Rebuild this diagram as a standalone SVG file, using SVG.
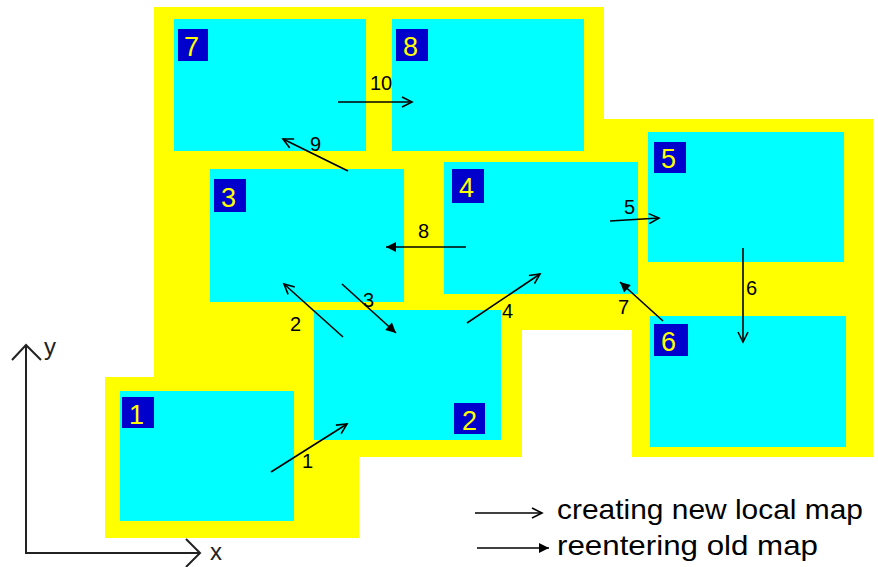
<svg xmlns="http://www.w3.org/2000/svg" width="878" height="567" viewBox="0 0 878 567">
<style>
.map{fill:#00ffff}
.tag{fill:#0000cc}
.num{font-family:"Liberation Sans",Arial,sans-serif;font-size:27px;fill:#ffff00}
.lbl{font-family:"Liberation Sans",Arial,sans-serif;font-size:20px;fill:#000}
.leg{font-family:"Liberation Sans",Arial,sans-serif;font-size:28px;fill:#000}
.new{stroke:#000;stroke-width:1.6;fill:none;marker-end:url(#open)}
.old{stroke:#000;stroke-width:1.6;fill:none;marker-end:url(#solid)}
.axis{stroke:#222;stroke-width:2;fill:none}
</style>
<defs>
<marker id="open" markerUnits="userSpaceOnUse" markerWidth="14" markerHeight="14" refX="11" refY="6" orient="auto">
<path d="M1,1 L11,6 L1,11" fill="none" stroke="#000" stroke-width="1.6"/>
</marker>
<marker id="solid" markerUnits="userSpaceOnUse" markerWidth="14" markerHeight="14" refX="11" refY="6" orient="auto">
<path d="M1,1 L11,6 L1,11 z" fill="#000"/>
</marker>
</defs>
<rect width="878" height="567" fill="#fff"/>
<path d="M154,7 H604 V119 H873 V457 H632 V330 H522 V457 H359 V538 H105 V377 H154 Z" fill="#ffff00"/>

<g id="map1"><rect class="map" x="120" y="391" width="174" height="130"/><rect class="tag" x="122" y="397" width="32" height="31"/><text class="num" x="129" y="424">1</text></g>
<g id="map2"><rect class="map" x="314" y="310" width="187" height="130"/><rect class="tag" x="454" y="403" width="31" height="31"/><text class="num" x="462" y="430">2</text></g>
<g id="map3"><rect class="map" x="210" y="169" width="194" height="133"/><rect class="tag" x="214" y="179" width="32" height="33"/><text class="num" x="221" y="207">3</text></g>
<g id="map4"><rect class="map" x="444" y="162" width="194" height="132"/><rect class="tag" x="452" y="169" width="32" height="34"/><text class="num" x="459" y="197">4</text></g>
<g id="map5"><rect class="map" x="648" y="132" width="196" height="130"/><rect class="tag" x="654" y="142" width="32" height="31"/><text class="num" x="661" y="168">5</text></g>
<g id="map6"><rect class="map" x="650" y="316" width="196" height="131"/><rect class="tag" x="654" y="324" width="34" height="32"/><text class="num" x="661" y="351">6</text></g>
<g id="map7"><rect class="map" x="174" y="19" width="192" height="132"/><rect class="tag" x="178" y="29" width="30" height="32"/><text class="num" x="184" y="56">7</text></g>
<g id="map8"><rect class="map" x="392" y="19" width="192" height="132"/><rect class="tag" x="396" y="29" width="32" height="32"/><text class="num" x="403" y="56">8</text></g>

<g id="connectors">
<line class="new" x1="271" y1="472" x2="347" y2="424"/>
<line class="new" x1="343" y1="337" x2="284" y2="284"/>
<line class="old" x1="342" y1="284" x2="396" y2="333"/>
<line class="new" x1="467" y1="323" x2="540" y2="274"/>
<line class="new" x1="610" y1="221" x2="659" y2="218"/>
<line class="new" x1="743" y1="248" x2="743" y2="342"/>
<line class="old" x1="663" y1="321" x2="620" y2="282"/>
<line class="old" x1="466" y1="247" x2="386" y2="247"/>
<line class="new" x1="348" y1="171" x2="283" y2="139"/>
<line class="new" x1="338" y1="102" x2="412" y2="102"/>
</g>
<g id="connector-labels">
<text class="lbl" x="302" y="468">1</text>
<text class="lbl" x="290" y="331">2</text>
<text class="lbl" x="363" y="307">3</text>
<text class="lbl" x="502" y="318">4</text>
<text class="lbl" x="624" y="214">5</text>
<text class="lbl" x="746" y="295">6</text>
<text class="lbl" x="618" y="314">7</text>
<text class="lbl" x="418" y="238">8</text>
<text class="lbl" x="310" y="151">9</text>
<text class="lbl" x="370" y="90">10</text>
</g>

<g id="axes">
<path class="axis" d="M26,345 V553 H200"/>
<path class="axis" d="M12,360 L26,345 L41,360"/>
<path class="axis" d="M186,539 L200,553 L186,567"/>
<text class="leg" x="44" y="355" style="font-size:24px;fill:#222">y</text>
<text class="leg" x="210" y="560" style="font-size:24px;fill:#222">x</text>
</g>

<g id="legend">
<line class="new" x1="475" y1="513" x2="542" y2="513"/>
<text class="leg" x="557" y="519" textLength="306" lengthAdjust="spacingAndGlyphs">creating new local map</text>
<line class="old" x1="477" y1="548" x2="549" y2="548"/>
<text class="leg" x="557" y="555" textLength="261" lengthAdjust="spacingAndGlyphs">reentering old map</text>
</g>
</svg>
